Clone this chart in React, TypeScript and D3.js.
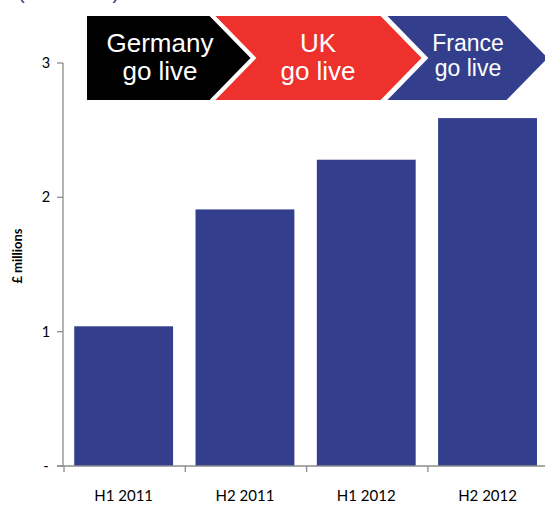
import React from "react";
import * as d3 from "d3";

const categories = ["H1 2011", "H2 2011", "H1 2012", "H2 2012"];
const values = [1.04, 1.91, 2.28, 2.59];
const yTicks = [0, 1, 2, 3];
const yTickLabels = ["-", "1", "2", "3"];
const milestones = [
  { lines: ["Germany", "go live"], color: "#000000", size: 26, cx: 160 },
  { lines: ["UK", "go live"], color: "#EE312C", size: 26, cx: 318 },
  { lines: ["France", "go live"], color: "#333F8C", size: 23, cx: 468 },
];

const W = 545;
const H = 505;
const left = 63;
const top = 63;
const bottom = 466;
const bandW = 121.3;

export default function App() {
  const x = d3
    .scaleBand<string>()
    .domain(categories)
    .range([left, left + bandW * categories.length])
    .paddingInner(0.185)
    .paddingOuter(0.0925);
  const y = d3.scaleLinear().domain([0, 3]).range([bottom, top]);
  const font = "'Liberation Sans', Arial, sans-serif";
  const axFont = "Lato, 'Liberation Sans', sans-serif";

  const chevY0 = 15, chevY1 = 101, chevMid = 58, depth = 42;
  const segs = [
    { x0: 86, x1: 210 },
    { x0: 213, x1: 381 },
    { x0: 385, x1: 507 },
  ];

  return (
    <svg width={W} height={H} style={{ position: "absolute", left: 0, top: 0 }}>
      <rect width={W} height={H} fill="#fff" />
      <text x={18} y={-1} fontFamily={font} fontSize={20} fill="#333F8C">(unaudited)</text>
      {values.map((v, i) => (
        <rect
          key={i}
          x={x(categories[i])}
          y={y(v)}
          width={x.bandwidth()}
          height={y(0) - y(v)}
          fill="#333F8C"
        />
      ))}
      <line x1={left} x2={left} y1={top} y2={bottom} stroke="#8c8c8c" strokeWidth={1.3} />
      {yTicks.map((t, i) => (
        <g key={t}>
          <line x1={left - 6} x2={left} y1={y(t)} y2={y(t)} stroke="#8c8c8c" strokeWidth={1.3} />
          <text x={46} y={y(t) + 5} fontFamily={axFont} fontSize={14.5} textAnchor="middle" fill="#000">
            {yTickLabels[i]}
          </text>
        </g>
      ))}
      <line x1={left - 6} x2={W} y1={bottom} y2={bottom} stroke="#8c8c8c" strokeWidth={1.3} />
      {categories.map((c, i) => (
        <line
          key={c}
          x1={left + bandW * i + 1}
          x2={left + bandW * i + 1}
          y1={bottom}
          y2={bottom + 6}
          stroke="#8c8c8c"
          strokeWidth={1.3}
        />
      ))}
      {categories.map((c) => (
        <text
          key={c}
          x={(x(c) as number) + x.bandwidth() / 2}
          y={501}
          fontFamily={axFont}
          fontSize={15}
          textAnchor="middle"
          fill="#000"
        >
          {c}
        </text>
      ))}
      <text
        transform={`translate(22,256) rotate(-90)`}
        fontFamily={axFont}
        fontSize={13}
        fontWeight="bold"
        textAnchor="middle"
        fill="#000"
      >
        £ millions
      </text>
      {milestones.map((m, i) => {
        const s = segs[i];
        const pts =
          i === 0
            ? [[s.x0, chevY0], [s.x1, chevY0], [s.x1 + depth, chevMid], [s.x1, chevY1], [s.x0, chevY1]]
            : [
                [s.x0, chevY0],
                [s.x1, chevY0],
                [s.x1 + depth, chevMid],
                [s.x1, chevY1],
                [s.x0, chevY1],
                [s.x0 + depth, chevMid],
              ];
        const y0 = m.size === 26 ? 52 : 51;
        const dy = m.size === 26 ? 28 : 25;
        return (
          <g key={i}>
            <polygon points={pts.map((p) => p.join(",")).join(" ")} fill={m.color} stroke="#fff" strokeWidth={2} />
            {m.lines.map((l, j) => (
              <text
                key={j}
                x={m.cx}
                y={y0 + j * dy}
                fontFamily={font}
                fontSize={m.size}
                textAnchor="middle"
                fill="#fff"
              >
                {l}
              </text>
            ))}
          </g>
        );
      })}
    </svg>
  );
}
